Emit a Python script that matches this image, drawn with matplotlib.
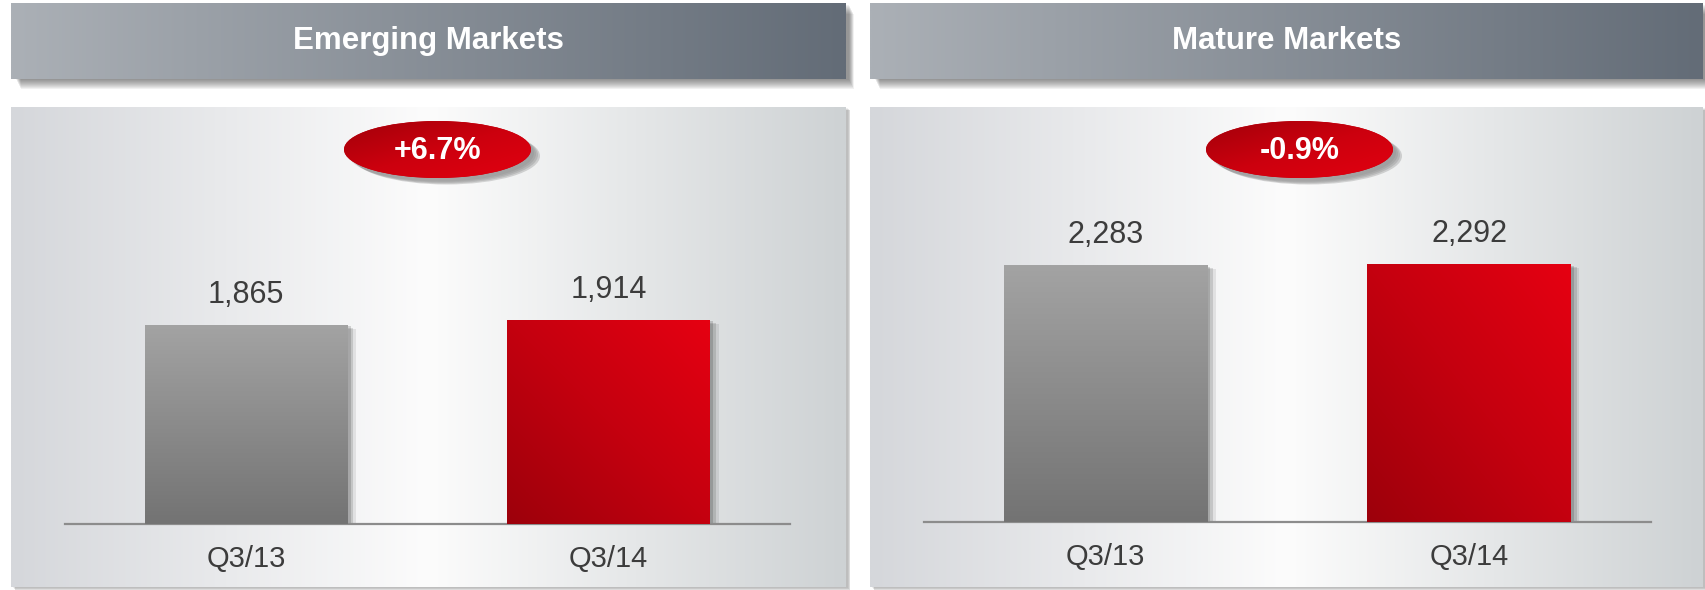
import numpy as np
import matplotlib
matplotlib.use("Agg")
import matplotlib.pyplot as plt
import matplotlib.patheffects as pe
from matplotlib.patches import Rectangle, Ellipse
from matplotlib.colors import LinearSegmentedColormap

plt.rcParams['font.family'] = ['Liberation Sans', 'DejaVu Sans']

# data
panel_titles = ["Emerging Markets", "Mature Markets"]
quarters = ["Q3/13", "Q3/14"]
emerging_vals = [1865, 1914]
mature_vals = [2283, 2292]
changes = ["+6.7%", "-0.9%"]

W, H = 1705, 590
fig = plt.figure(figsize=(W / 100, H / 100), dpi=100)
bg = fig.add_axes([0, 0, 1, 1], zorder=0)
bg.set_xlim(0, W)
bg.set_ylim(H, 0)
bg.axis("off")

panel_cmap = LinearSegmentedColormap.from_list(
    "panel", [(0, "#d5d7db"), (0.5, "#fcfcfc"), (1, "#ced2d4")])
header_cmap = LinearSegmentedColormap.from_list("header", ["#abb0b6", "#636c77"])
gray_cmap = LinearSegmentedColormap.from_list("grey", ["#737373", "#a3a3a3"])
red_cmap = LinearSegmentedColormap.from_list("red", ["#9c000b", "#c4000f", "#e60012"])
oval_cmap = LinearSegmentedColormap.from_list("oval", ["#a2000a", "#cc000e", "#e20010"])


def grad_img(ax, extent, cmap, kind="h", clip=None, zorder=1):
    n = 256
    xx, yy = np.meshgrid(np.linspace(0, 1, n), np.linspace(0, 1, n))
    if kind == "h":
        z = xx
    elif kind == "v":
        z = yy
    elif kind == "d":
        z = (xx + yy) / 2
    else:
        z = (xx + 1 - yy) / 2
    im = ax.imshow(z, extent=extent, cmap=cmap, origin="lower", aspect="auto",
                   zorder=zorder, interpolation="bilinear")
    if clip is not None:
        im.set_clip_path(clip)
    return im


def draw_panel(x0, x1, title, change, oval_cx, oval_w):
    # header with soft shadow below
    for i in range(10):
        bg.add_patch(Rectangle((x0 + 5 + i * 0.5, 5 + i), x1 - x0 - 2, 75, color="#202020",
                               alpha=0.06, lw=0, zorder=1))
    grad_img(bg, (x0, x1, 79, 3), header_cmap, "h", zorder=2)
    bg.text((x0 + x1) / 2, 41, title, color="white", fontsize=22.5,
            fontweight="bold", ha="center", va="center", zorder=3)

    # panel body with shadow
    for i, a in enumerate([0.08, 0.12, 0.18]):
        bg.add_patch(Rectangle((x0 + 2 + i, 108 + i), x1 - x0, 587 - 107, color="#404040",
                               alpha=a, lw=0, zorder=1))
    grad_img(bg, (x0, x1, 587, 107), panel_cmap, "h", zorder=2)

    # oval badge
    for i, a in enumerate([0.07, 0.10, 0.14, 0.18]):
        bg.add_patch(Ellipse((oval_cx + 3 + 2 * i, 153 + i), oval_w, 57, color="#303030",
                             alpha=a, lw=0, zorder=3))
    oval = Ellipse((oval_cx, 149.5), oval_w, 57, facecolor="#c8000e", lw=0, zorder=4)
    bg.add_patch(oval)
    grad_img(bg, (oval_cx - oval_w / 2, oval_cx + oval_w / 2, 178, 121),
             oval_cmap, "a", clip=oval, zorder=5)
    bg.text(oval_cx, 151, change, color="white", fontsize=22, fontweight="bold",
            ha="center", va="center", zorder=6)
    bg.set_xlim(0, W)
    bg.set_ylim(H, 0)


draw_panel(11, 846, panel_titles[0], changes[0], 437.5, 187)
draw_panel(870, 1703, panel_titles[1], changes[1], 1299.5, 187)


def bar_panel(rect, vals, ytop):
    ax = fig.add_axes(rect, zorder=2)
    ax.patch.set_alpha(0)
    x = np.arange(len(vals))
    bars = ax.bar(x, vals, width=0.56, color=["#8a8a8a", "#c4000f"], zorder=2)
    for b in bars:
        b.set_path_effects([
            pe.SimplePatchShadow(offset=(6, -3), shadow_rgbFace="k", alpha=0.08),
            pe.SimplePatchShadow(offset=(4, -2), shadow_rgbFace="k", alpha=0.12),
            pe.SimplePatchShadow(offset=(2, -1), shadow_rgbFace="k", alpha=0.15),
            pe.Normal()])
    for b, cmap, kind in zip(bars, [gray_cmap, red_cmap], ["v", "d"]):
        ext = (b.get_x(), b.get_x() + b.get_width(), 0, b.get_height())
        grad_img(ax, ext, cmap, kind, clip=b, zorder=3)
    for b, v in zip(bars, vals):
        ax.annotate(f"{v:,}", (b.get_x() + b.get_width() / 2, v), xytext=(0, 11),
                    textcoords="offset points", ha="center", va="bottom",
                    fontsize=22, color="#3c3c3c")
    ax.set_xlim(-0.5, 1.5)
    ax.set_ylim(0, ytop)
    ax.set_xticks(x)
    ax.set_xticklabels(quarters, fontsize=21, color="#3c3c3c")
    ax.set_yticks([])
    ax.tick_params(axis="x", length=0, pad=15)
    for s in ["top", "left", "right"]:
        ax.spines[s].set_visible(False)
    ax.spines["bottom"].set_color("#8c8c8c")
    ax.spines["bottom"].set_linewidth(1.6)
    return ax


bar_panel([65 / W, (H - 524) / H, 725 / W, 417 / H], emerging_vals, 3910)
bar_panel([924 / W, (H - 522) / H, 727 / W, 415 / H], mature_vals, 3690)

fig.savefig("out.png", dpi=100, facecolor="white")
